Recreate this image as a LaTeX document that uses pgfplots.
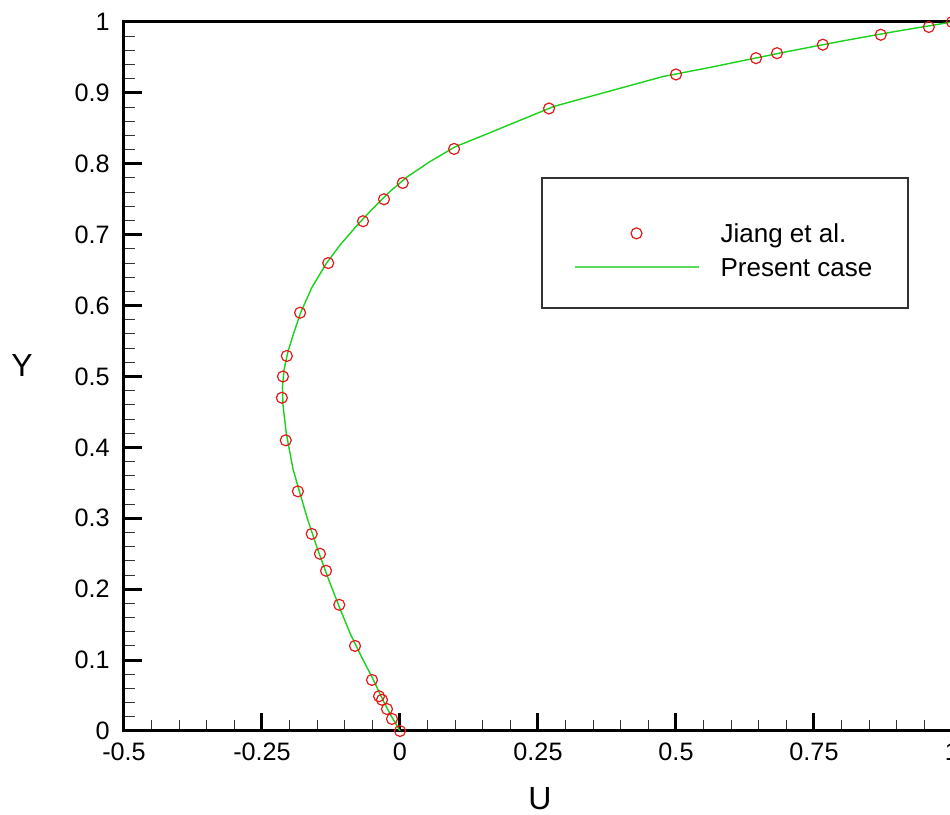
\documentclass[border=0pt]{standalone}
\usepackage{fontspec}
\setmainfont{Liberation Sans}
\usepackage{pgfplots}
\usepackage{pgfplotstable}
\pgfplotsset{compat=1.18}
\definecolor{ptred}{RGB}{225,25,25}
\definecolor{ptgreen}{RGB}{25,210,25}
\definecolor{leggreen}{RGB}{90,220,90}
\pgfplotsset{
  legscatter/.style={legend image code/.code={%
    \path[draw=none,fill=none] (0pt,0pt) -- (62pt,0pt);
    \path[draw=ptred, line width=0.6pt] plot[only marks, mark=o, mark size=2.75pt] coordinates {(31pt,0pt)};}},
  legline/.style={legend image code/.code={%
    \path[draw=leggreen, line width=1.1pt] (0pt,0pt) -- (62pt,0pt);}},
}

\pgfplotstableread{
x y
0.000 0.000
-0.0145 0.017
-0.0236 0.031
-0.0326 0.044
-0.038 0.049
-0.0507 0.072
-0.0815 0.120
-0.110 0.178
-0.134 0.226
-0.145 0.250
-0.160 0.278
-0.185 0.338
-0.207 0.410
-0.214 0.470
-0.212 0.500
-0.205 0.529
-0.181 0.590
-0.130 0.660
-0.067 0.719
-0.029 0.750
0.005 0.773
0.098 0.821
0.270 0.878
0.500 0.926
0.645 0.949
0.683 0.956
0.766 0.968
0.871 0.982
0.958 0.993
1.000 1.000
}\jiang

\pgfplotstableread{
x y
0.000 0.000
-0.015 0.020
-0.030 0.042
-0.050 0.075
-0.070 0.105
-0.090 0.137
-0.110 0.175
-0.130 0.215
-0.150 0.258
-0.168 0.300
-0.183 0.340
-0.194 0.370
-0.206 0.420
-0.212 0.460
-0.213 0.485
-0.210 0.510
-0.203 0.535
-0.193 0.560
-0.180 0.590
-0.160 0.625
-0.133 0.660
-0.108 0.686
-0.078 0.713
-0.048 0.738
-0.018 0.761
0.012 0.781
0.054 0.803
0.100 0.824
0.154 0.841
0.279 0.881
0.476 0.923
0.562 0.936
0.700 0.958
0.800 0.973
0.900 0.987
1.000 1.000
}\present

\begin{document}
\begin{tikzpicture}[font=\fontsize{12.6}{15}\selectfont]
\begin{axis}[
  at={(62pt,42pt)}, anchor=south west,
  scale only axis, width=414pt, height=354.5pt,
  xmin=-0.5, xmax=1, ymin=0, ymax=1,
  xtick={-0.5,-0.25,0,0.25,0.5,0.75,1},
  xticklabels={-0.5,-0.25,0,0.25,0.5,0.75,1},
  ytick={0,0.1,0.2,0.3,0.4,0.5,0.6,0.7,0.8,0.9,1},
  yticklabels={0,0.1,0.2,0.3,0.4,0.5,0.6,0.7,0.8,0.9,1},
  minor x tick num=4, minor y tick num=4,
  tick align=inside, xtick pos=bottom, ytick pos=left,
  major tick length=9pt, minor tick length=5.5pt,
  major tick style={line width=1.5pt, black},
  minor tick style={line width=0.5pt, black!80},
  axis line style={line width=1.5pt},
  xticklabel style={inner sep=0pt, yshift=-6pt, anchor=north},
  yticklabel style={inner sep=0pt, xshift=-7pt, anchor=east},
  xlabel={U}, ylabel={Y},
  xlabel style={at={(axis description cs:0.5024,-0.0960)}, anchor=center, font=\fontsize{16}{18}\selectfont},
  ylabel style={at={(axis description cs:-0.1232,0.516)}, anchor=center, rotate=-90, font=\fontsize{16}{18}\selectfont},
  legend style={at={(axis description cs:0.5423,0.7264)}, anchor=north west,
    draw=none, fill=none, inner sep=0pt, row sep=0pt, column sep=10.5pt,
    cells={anchor=west}, font=\fontsize{13}{15}\selectfont,
    nodes={inner sep=0pt, text height=13.2pt, text depth=3.8pt}},
]
\draw[black!80, line width=0.6pt] (rel axis cs:0.5048,0.5966) rectangle (rel axis cs:0.9469,0.78);
\addplot[only marks, mark=o, mark size=2.75pt, ptred, mark options={line width=0.6pt}, legscatter]
  table[x=x,y=y] {\jiang};
\addlegendentry{Jiang et al.}
\addplot[ptgreen, line width=0.7pt, no marks, legline]
  table[x=x,y=y] {\present};
\addlegendentry{Present case}
\end{axis}
\pgfresetboundingbox
\path[use as bounding box] (0,0) rectangle (475pt,407.5pt);
\end{tikzpicture}
\end{document}
